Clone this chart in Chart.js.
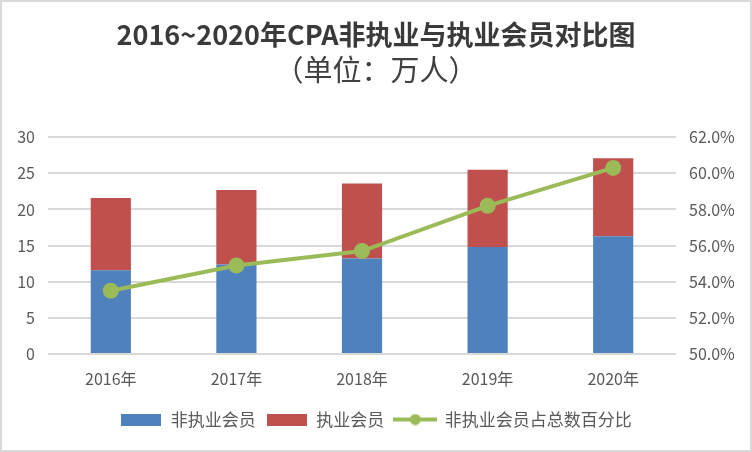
<!DOCTYPE html>
<html>
<head>
<meta charset="utf-8">
<script src="https://cdn.jsdelivr.net/npm/chart.js@4"></script>
<style>
  html, body { margin: 0; padding: 0; background: #ffffff; }
  #wrap { position: relative; width: 752px; height: 452px; }
  #frame { position: absolute; left: 0; top: 0; width: 752px; height: 452px; box-sizing: border-box; border: 2px solid #d9d9d9; pointer-events: none; }
</style>
</head>
<body>
<div id="wrap">
  <canvas id="c" width="752" height="452"></canvas>
  <div id="frame"></div>
</div>
<script>
const years = ['2016年', '2017年', '2018年', '2019年', '2020年'];
const nonPracticing = [11.6, 12.4, 13.2, 14.8, 16.3];
const practicing = [10.0, 10.3, 10.4, 10.7, 10.8];
const nonPracticingPct = [53.5, 54.9, 55.7, 58.2, 60.3];
const seriesNames = ['非执业会员', '执业会员', '非执业会员占总数百分比'];
const leftTicks = { min: 0, max: 30, step: 5 };
const rightTicks = { min: 50, max: 62, step: 2 };

const BLUE = '#4f81bd', RED = '#c0504d', GREEN = '#9bbb59';
const FONT = "'Noto Sans CJK SC', 'Noto Sans', sans-serif";
const TXT = '#595959';

function boxIcon(color, w, h) {
  const c = document.createElement('canvas');
  c.width = w; c.height = h;
  const g = c.getContext('2d');
  g.fillStyle = color; g.fillRect(0, 0, w, h);
  return c;
}
function lineIcon(color, w, h) {
  const c = document.createElement('canvas');
  c.width = w; c.height = h;
  const g = c.getContext('2d');
  g.strokeStyle = color; g.lineWidth = 4;
  g.beginPath(); g.moveTo(0, h / 2); g.lineTo(w, h / 2); g.stroke();
  g.fillStyle = color; g.beginPath(); g.arc(w / 2, h / 2, 5.5, 0, Math.PI * 2); g.fill();
  return c;
}
const icons = [boxIcon(BLUE, 40, 12), boxIcon(RED, 40, 12), lineIcon(GREEN, 44, 12)];

new Chart(document.getElementById('c'), {
  data: {
    labels: years,
    datasets: [
      { type: 'bar', label: seriesNames[0], data: nonPracticing, backgroundColor: BLUE, yAxisID: 'y', order: 2, stack: 's' },
      { type: 'bar', label: seriesNames[1], data: practicing, backgroundColor: RED, yAxisID: 'y', order: 2, stack: 's' },
      { type: 'line', label: seriesNames[2], data: nonPracticingPct, borderColor: GREEN, backgroundColor: GREEN,
        pointBackgroundColor: GREEN, pointBorderColor: GREEN, borderWidth: 4, pointRadius: 6, pointHoverRadius: 6,
        tension: 0, yAxisID: 'y1', order: 0 }
    ]
  },
  options: {
    responsive: false,
    animation: false,
    devicePixelRatio: 1,
    layout: { padding: { left: 0, right: 0, top: 0, bottom: 14 } },
    datasets: { bar: { barPercentage: 0.32, categoryPercentage: 1 } },
    plugins: {
      tooltip: { enabled: false },
      title: {
        display: true, text: '2016~2020年CPA非执业与执业会员对比图', color: '#3a3a3a',
        font: { family: FONT, size: 27, weight: 'bold' }, padding: { top: 19, bottom: 1 }
      },
      subtitle: {
        display: true, text: '（单位：万人）', color: '#404040',
        font: { family: FONT, size: 29, weight: 'normal' }, padding: { top: 0, bottom: 50 }
      },
      legend: {
        position: 'bottom',
        labels: {
          usePointStyle: true, pointStyleWidth: 42, color: TXT, padding: 10,
          font: { family: FONT, size: 17 },
          generateLabels: (chart) => chart.data.datasets.map((ds, i) => ({
            text: ds.label, pointStyle: icons[i], fillStyle: ds.backgroundColor, strokeStyle: ds.backgroundColor,
            lineWidth: 0, hidden: !chart.isDatasetVisible(i), datasetIndex: i, fontColor: TXT
          }))
        }
      }
    },
    scales: {
      x: {
        stacked: true,
        grid: { display: false, drawTicks: false },
        border: { display: false },
        ticks: { color: TXT, font: { family: FONT, size: 16 }, padding: 15 },
        afterFit: (s) => { s.height = 47; }
      },
      y: {
        position: 'left', stacked: true,
        min: leftTicks.min, max: leftTicks.max,
        grid: { color: '#d9d9d9', lineWidth: 2, drawTicks: false },
        border: { display: false },
        ticks: { stepSize: leftTicks.step, color: TXT, font: { family: FONT, size: 16 }, padding: 13 },
        afterFit: (s) => { s.width = 48; }
      },
      y1: {
        position: 'right',
        min: rightTicks.min, max: rightTicks.max,
        grid: { drawOnChartArea: false, drawTicks: false },
        border: { display: false },
        ticks: { stepSize: rightTicks.step, color: TXT, font: { family: FONT, size: 16 }, padding: 13,
          callback: (v) => Number(v).toFixed(1) + '%' },
        afterFit: (s) => { s.width = 76; }
      }
    }
  }
});
</script>
</body>
</html>
